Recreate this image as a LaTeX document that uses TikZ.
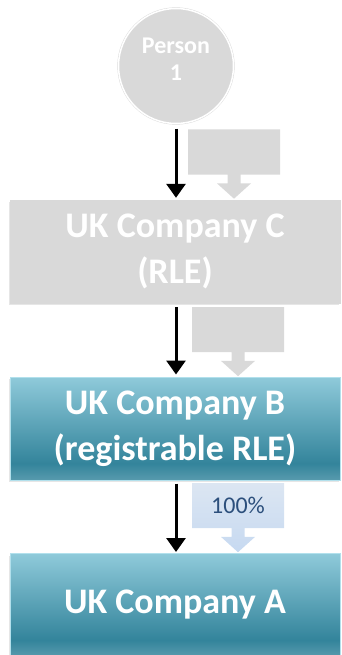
\documentclass[tikz,border=0pt]{standalone}
\usepackage{fontspec}
\setmainfont{Carlito}
\usetikzlibrary{arrows.meta,shapes.arrows,shadows}

\definecolor{paleGray}{HTML}{D9D9D9}
\definecolor{tealTop}{HTML}{8FCADA}
\definecolor{tealBot}{HTML}{33849B}
\definecolor{tealRim}{HTML}{B2E0EC}
\definecolor{pctTop}{HTML}{DCE6F2}
\definecolor{pctBot}{HTML}{C6D9F1}
\definecolor{pctText}{HTML}{2C4F7C}
\pgfdeclareverticalshading{tealShade}{100bp}{color(0bp)=(tealBot!82!white); color(25bp)=(tealBot!82!white); color(33bp)=(tealBot); color(75bp)=(tealTop); color(100bp)=(tealTop)}

\begin{document}
\begin{tikzpicture}[x=1pt, y=-1pt, 
    company/.style = {draw, rectangle, minimum width=330pt, minimum height=103pt, align=center, text=white, font=\fontsize{36}{46}\selectfont\bfseries, drop shadow={opacity=0.2, shadow xshift=-1.5pt, shadow yshift=-2pt}},
    greyco/.style = {company, fill=paleGray, draw=white!85!black},
    tealco/.style = {company, shading=tealShade, draw=tealRim, line width=1pt},
    share/.style = {arrow box, arrow box arrows={south:24pt}, arrow box shaft width=13pt, arrow box head extend=10.5pt, arrow box tip angle=96, minimum width=92pt, minimum height=45pt, inner sep=0pt},
    link/.style = {-{Triangle[width=19pt,length=14pt]}, line width=3pt}] 
        \useasboundingbox (0,0) rectangle (342,655);
        \node[circle, fill=paleGray, draw=black!15, double=white, double distance=1.5pt, minimum size=115pt, text=white, font=\fontsize{24}{27}\selectfont\bfseries] (person) at (176,66) {\raisebox{-2pt}[0pt][0pt]{\begin{tabular}{@{}c@{}}Person\\1\end{tabular}}}; 
        \node[greyco] (compC) at (175,251.5) {UK Company C\\(RLE)}; 
        \node[tealco] (compB) at (175,428.5) {UK Company B\\(registrable RLE)}; 
        \node[tealco] (compA) at (175,605) {UK Company A}; 
        \node[share, fill=paleGray] (shareC) at (234,152) {}; 
        \node[share, fill=paleGray] (shareB) at (238,329.5) {}; 
        \node[share, top color=pctTop, bottom color=pctBot, text=pctText, font=\fontsize{24}{28}\selectfont] (shareA) at (238,505.5) {100\%}; 
        \draw[link, shorten <=5pt, shorten >=2pt] (person.south) -- (person.south |- compC.north); 
        \draw[link, shorten <=4pt, shorten >=2pt] (compC.south -| person) -- (compB.north -| person); 
        \draw[link, shorten <=3pt, shorten >=1pt] (compB.south -| person) -- (compA.north -| person);
    \end{tikzpicture}
\end{document}
